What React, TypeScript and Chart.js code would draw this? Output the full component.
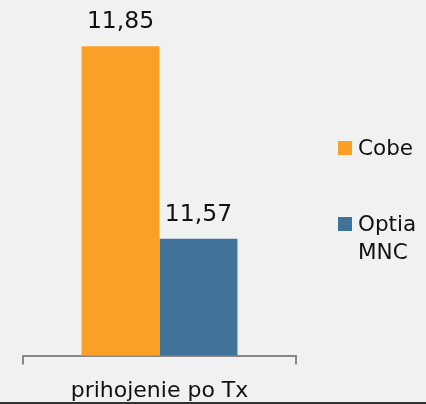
import React, { useEffect, useRef } from "react";
import { Chart, registerables } from "chart.js";

Chart.register(...registerables);

const categories = ["prihojenie po Tx"];
const seriesNames = ["Cobe", "Optia MNC"];
const seriesLegendLines = [["Cobe"], ["Optia", "MNC"]];
const cobeValues = [11.85];
const optiaValues = [11.57];
const seriesColors = ["#FBA026", "#41729A"];

const FONT = "'DejaVu Sans', sans-serif";

const fmt = (v: number) => v.toFixed(2).replace(".", ",");

const valueLabels = {
  id: "valueLabels",
  afterDatasetsDraw(chart: any) {
    const ctx = chart.ctx;
    ctx.save();
    ctx.fillStyle = "#111";
    ctx.font = `23.5px ${FONT}`;
    ctx.textAlign = "center";
    ctx.textBaseline = "alphabetic";
    chart.data.datasets.forEach((ds: any, i: number) => {
      const meta = chart.getDatasetMeta(i);
      meta.data.forEach((bar: any, j: number) => {
        ctx.fillText(fmt(ds.data[j]), bar.x, bar.y - 18);
      });
    });
    ctx.restore();
  },
};

const sideLegend = {
  id: "sideLegend",
  afterDraw(chart: any) {
    const ctx = chart.ctx;
    ctx.save();
    ctx.font = `21.5px ${FONT}`;
    ctx.textBaseline = "middle";
    ctx.textAlign = "left";
    const centers = [148, 224];
    chart.data.datasets.forEach((ds: any, i: number) => {
      const cy = centers[i];
      ctx.fillStyle = ds.backgroundColor;
      ctx.fillRect(338, cy - 7, 14, 14);
      ctx.fillStyle = "#111";
      seriesLegendLines[i].forEach((line, k) => {
        ctx.fillText(line, 358, cy + 1 + k * 28);
      });
    });
    ctx.restore();
  },
};

export default function App() {
  const ref = useRef<HTMLCanvasElement>(null);
  useEffect(() => {
    if (!ref.current) return;
    const chart = new Chart(ref.current, {
      type: "bar",
      data: {
        labels: categories,
        datasets: [
          { label: seriesNames[0], data: cobeValues, backgroundColor: seriesColors[0] },
          { label: seriesNames[1], data: optiaValues, backgroundColor: seriesColors[1] },
        ],
      },
      options: {
        animation: false,
        responsive: false,
        maintainAspectRatio: false,
        layout: { padding: { left: 23, right: 130, top: 12, bottom: 0 } },
        plugins: { legend: { display: false }, tooltip: { enabled: false } },
        datasets: { bar: { barPercentage: 1, categoryPercentage: 0.571 } },
        scales: {
          x: {
            grid: { display: true, drawOnChartArea: false, tickLength: 9, color: "#888", lineWidth: 2 },
            border: { display: true, color: "#888", width: 2 },
            ticks: { color: "#111", font: { family: FONT, size: 22 }, padding: 13 },
          },
          y: { display: false, min: 11.4, max: 11.9 },
        },
      },
      plugins: [valueLabels, sideLegend],
    });
    return () => chart.destroy();
  }, []);
  return (
    <div
      style={{
        position: "absolute",
        left: 0,
        top: 0,
        width: 426,
        height: 404,
        background: "#f1f1f1",
        boxSizing: "border-box",
        borderBottom: "2px solid #2f3336",
        overflow: "hidden",
      }}
    >
      <canvas ref={ref} width={426} height={417} style={{ display: "block" }} />
    </div>
  );
}
